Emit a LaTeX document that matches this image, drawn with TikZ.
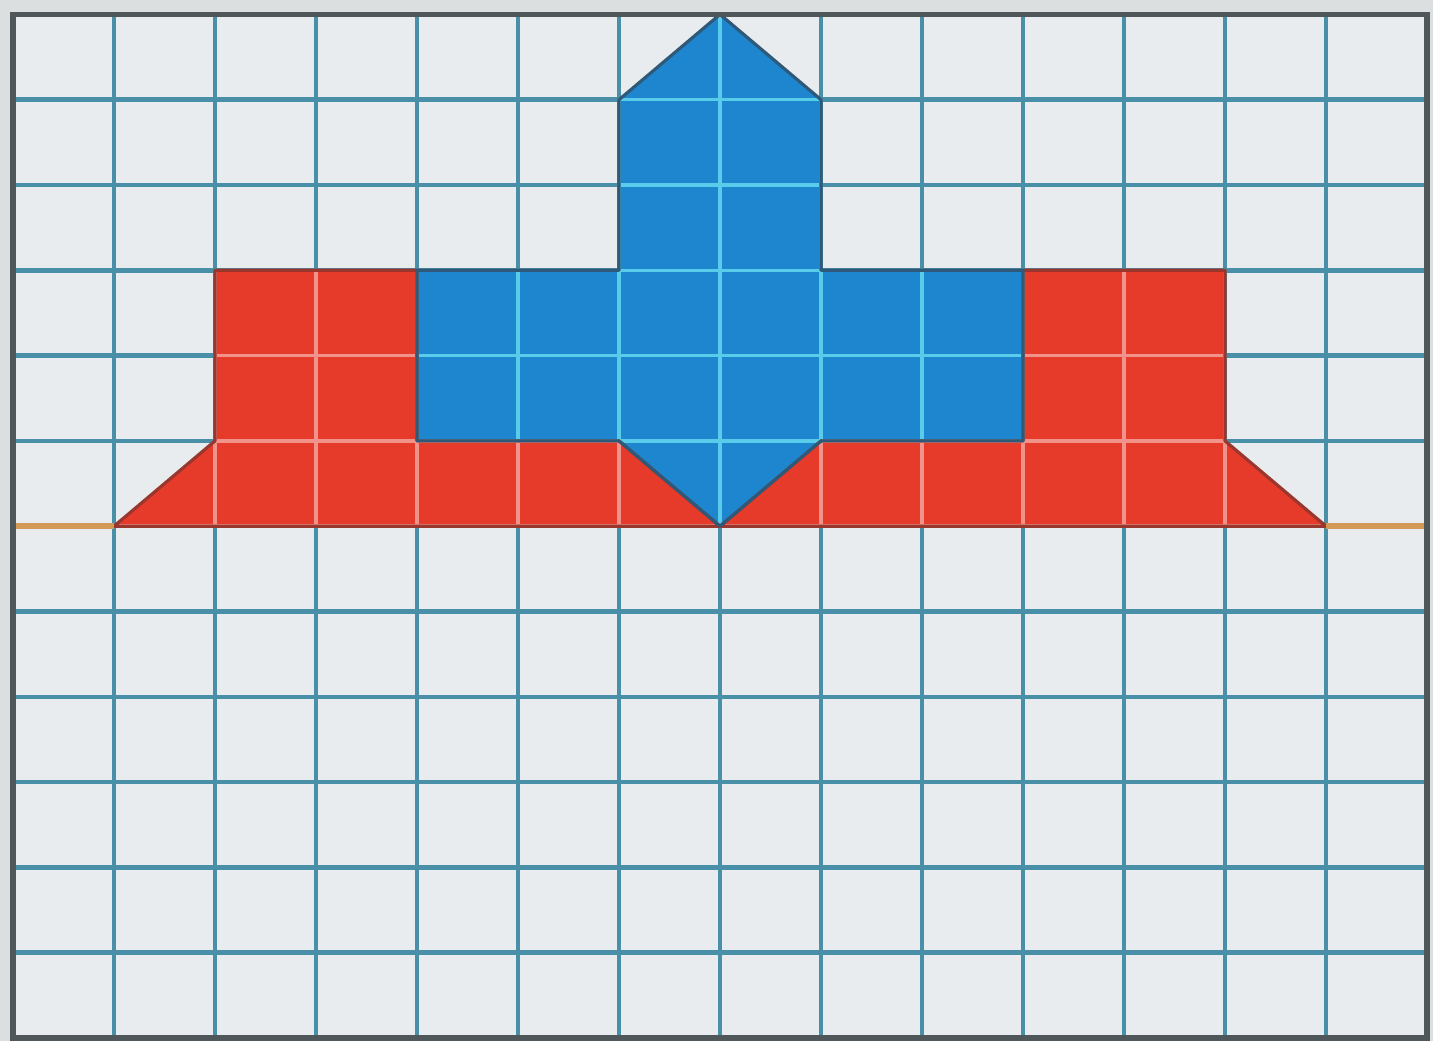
\documentclass[tikz,border=0pt]{standalone}
\usepackage{xcolor}
\definecolor{gpaper}{HTML}{E8ECEE}
\definecolor{gmargin}{HTML}{DCDFE0}
\definecolor{gline}{HTML}{4A8FA8}
\definecolor{gframe}{HTML}{50575A}
\definecolor{sred}{HTML}{E63A2A}
\definecolor{sblue}{HTML}{1E86CE}
\definecolor{sedge}{HTML}{3C3434}
\definecolor{sbase}{HTML}{D49A55}
\usepackage{tikz}
% outlines of the two coloured parts, in grid units
\newcommand{\redoutline}{(1,6) -- (2,7) -- (2,9) -- (4,9) -- (4,7) -- (6,7) -- (7,6) -- (8,7) -- (10,7) -- (10,9) -- (12,9) -- (12,7) -- (13,6) -- cycle}
\newcommand{\blueoutline}{(4,7) -- (6,7) -- (7,6) -- (8,7) -- (10,7) -- (10,9) -- (8,9) -- (8,11) -- (7,12) -- (6,11) -- (6,9) -- (4,9) -- cycle}
% 14 x 12 squares
\newcommand{\paperlines}[1]{%
  \foreach \i in {0,...,14} \draw[#1] (\i,0) -- (\i,12);
  \foreach \j in {0,...,12} \draw[#1] (0,\j) -- (14,\j);}

\begin{document}
\begin{tikzpicture}[x=1.01cm,y=0.853cm,
  gridln/.style={draw=gline,line width=1.3pt},
  redgrid/.style={draw=sred!55!white,line width=1pt},
  bluegrid/.style={draw=sblue!60!cyan!70!white,line width=1pt},
  rededge/.style={draw=sred!55!sedge,line width=0.9pt,line join=round},
  blueedge/.style={draw=sblue!45!sedge,line width=0.9pt,line join=round},
  baseln/.style={draw=sbase,line width=1.8pt}]
\useasboundingbox[fill=gmargin] (-0.13cm,-0.03cm) rectangle (14.20cm,10.38cm);
% squared paper
\fill[gpaper] (0,0) rectangle (14,12);
\paperlines{gridln}
% coloured parts
\fill[sred] \redoutline;
\fill[sblue] \blueoutline;
\begin{scope}
  \clip \redoutline;
  \paperlines{redgrid}
\end{scope}
\begin{scope}
  \clip \blueoutline;
  \paperlines{bluegrid}
\end{scope}
\draw[rededge] \redoutline;
\draw[blueedge] \blueoutline;
% base line on both sides
\draw[baseln] (0,6) -- (1,6);
\draw[baseln] (13,6) -- (14,6);
\draw[gframe,line width=1.5pt] (0,0) rectangle (14,12);
\end{tikzpicture}
\end{document}
